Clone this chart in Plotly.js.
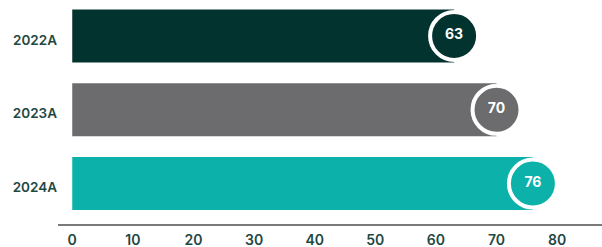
<!DOCTYPE html>
<html>
<head>
<meta charset="utf-8">
<script src="https://cdn.plot.ly/plotly-3.0.1.min.js"></script>
<style>html,body{margin:0;padding:0;background:#fff;}#chart{width:602px;height:247px;}</style>
</head>
<body>
<div id="chart"></div>
<script>
const categories = ["2022A", "2023A", "2024A"];
const values = [63, 70, 76];
const barColors = ["#03332f", "#6c6c6f", "#0cb2aa"];
const tickVals = [0, 10, 20, 30, 40, 50, 60, 70, 80];

const labelColor = "#1f4843";
const fontFam = "Inter, 'Open Sans', sans-serif";

const bars = {
  type: "bar",
  orientation: "h",
  x: values,
  y: categories,
  marker: {color: barColors},
  width: 0.72,
  hoverinfo: "skip"
};
const dots = {
  type: "scatter",
  mode: "markers+text",
  x: values,
  y: categories,
  text: values.map(String),
  textposition: "middle center",
  textfont: {color: "#ffffff", size: 14, family: fontFam, weight: 700},
  marker: {color: barColors, size: 48, line: {color: "#ffffff", width: 4}},
  cliponaxis: false,
  hoverinfo: "skip"
};

const layout = {
  width: 602, height: 247,
  margin: {l: 58, r: 0, t: 0, b: 23, pad: 0},
  paper_bgcolor: "#ffffff",
  plot_bgcolor: "#ffffff",
  showlegend: false,
  xaxis: {
    range: [-2.35, 87.4],
    tickvals: tickVals,
    ticktext: tickVals.map(String),
    showgrid: false,
    zeroline: false,
    showline: true,
    linecolor: "#7a7a7a",
    linewidth: 2,
    ticks: "",
    ticklabelstandoff: 2,
    tickfont: {color: labelColor, size: 14, family: fontFam, weight: 600},
    fixedrange: true
  },
  yaxis: {
    type: "category",
    categoryarray: categories,
    range: [2.549, -0.488],
    showgrid: false,
    zeroline: false,
    showline: false,
    ticks: "",
    ticklabelstandoff: 0,
    ticklabelshift: -4,
    tickfont: {color: labelColor, size: 13.5, family: fontFam, weight: 600},
    fixedrange: true
  }
};

Plotly.newPlot("chart", [bars, dots], layout, {displayModeBar: false, staticPlot: true});
</script>
</body>
</html>
